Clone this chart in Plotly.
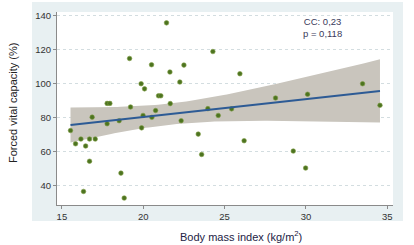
import numpy as np
import plotly.graph_objects as go

# Data
bmi = [15.53, 15.84, 16.17, 16.46, 16.70, 17.05, 16.70, 16.33, 16.86, 17.78,
       17.95, 17.78, 18.52, 18.63, 18.83, 19.16, 19.22, 19.87, 20.08, 19.90,
       19.99, 20.51, 20.94, 21.08, 20.76, 20.53, 21.43, 21.64, 21.66, 22.25,
       22.50, 22.33, 23.38, 23.59, 23.97, 24.28, 24.61, 25.43, 25.94, 26.20,
       28.13, 29.22, 29.98, 30.10, 33.48, 34.55]
fvc = [72.3, 64.5, 67.3, 63.2, 67.3, 67.3, 54.2, 36.4, 80.2, 88.3,
       88.3, 76.3, 78.1, 47.2, 32.5, 114.8, 86.2, 99.9, 96.9, 73.9,
       81.2, 111.1, 92.8, 92.8, 84.1, 80.1, 135.8, 106.8, 88.2, 100.9,
       110.9, 78.1, 70.2, 58.2, 85.2, 118.9, 81.2, 85.1, 105.8, 66.3,
       91.5, 60.2, 50.2, 93.7, 99.9, 87.2]

x_ticks = [15, 20, 25, 30, 35]
y_ticks = [40, 60, 80, 100, 120, 140]
annot_lines = ["CC: 0,23", "p = 0,118"]
x_title = "Body mass index (kg/m<sup>2</sup>)"
y_title = "Forced vital capacity (%)"

# Linear fit with 95% CI of the mean (Stata lfitci style)
x = np.array(bmi)
y = np.array(fvc)
n = len(x)
b, a = np.polyfit(x, y, 1)
resid = y - (a + b * x)
s = np.sqrt(np.sum(resid ** 2) / (n - 2))
xm = x.mean()
sxx = np.sum((x - xm) ** 2)
t_crit = 2.0154  # t(0.975, df=44)
xg = np.linspace(x.min(), x.max(), 100)
yg = a + b * xg
se = s * np.sqrt(1.0 / n + (xg - xm) ** 2 / sxx)
upper = yg + t_crit * se
lower = yg - t_crit * se

fig = go.Figure()
fig.add_trace(go.Scatter(
    x=np.concatenate([xg, xg[::-1]]), y=np.concatenate([upper, lower[::-1]]),
    fill="toself", fillcolor="#c9c5bd", line=dict(width=0), mode="lines",
    hoverinfo="skip", showlegend=False))
fig.add_trace(go.Scatter(
    x=bmi, y=fvc, mode="markers",
    marker=dict(color="#4d7420", size=4.6, line=dict(color="#7f9c45", width=0.6)),
    showlegend=False))
fig.add_trace(go.Scatter(
    x=xg, y=yg, mode="lines", line=dict(color="#2d5b95", width=2),
    showlegend=False))

W, H = 414, 245
L, R, T, B = 57, 21, 12, 40
pw, ph = W - L - R, H - T - B

def px_x(p):
    return (p - L) / pw

def px_y(p):
    return (H - B - p) / ph

txt_font = "Liberation Sans, Arial, sans-serif"

fig.add_annotation(
    x=px_x(322), y=px_y(14), xref="paper", yref="paper", xanchor="center", yanchor="top",
    text="<br>".join(annot_lines), showarrow=False, align="center",
    font=dict(size=9.5, color="#3a3a5a", family=txt_font))

# axis titles as annotations (placed like the reference)
fig.add_annotation(
    x=px_x(241), y=px_y(236), xref="paper", yref="paper",
    xanchor="center", yanchor="middle", text=x_title, showarrow=False,
    font=dict(size=11, color="#222244", family=txt_font))
fig.add_annotation(
    x=px_x(13), y=px_y(103), xref="paper", yref="paper",
    xanchor="center", yanchor="middle", text=y_title, showarrow=False,
    textangle=-90, font=dict(size=11, color="#222222", family=txt_font))

# outer light panel and white plot region
fig.add_shape(type="rect", xref="paper", yref="paper",
              x0=px_x(32), x1=px_x(403), y0=px_y(221), y1=px_y(2),
              fillcolor="#e8f0f2", line=dict(width=0), layer="below")
fig.add_shape(type="rect", xref="paper", yref="paper",
              x0=0, x1=1, y0=0, y1=1,
              fillcolor="white", line=dict(width=0), layer="below")

font = dict(family=txt_font, color="#333333")
fig.update_layout(
    width=W, height=H,
    margin=dict(l=L, r=R, t=T, b=B),
    paper_bgcolor="white", plot_bgcolor="white",
    font=font,
    xaxis=dict(range=[14.7, 35.35], tickvals=x_ticks, showgrid=False,
               automargin=False,
               zeroline=False, showline=True, linecolor="#8a8a8a", linewidth=1,
               ticks="outside", ticklen=3, tickcolor="#8a8a8a",
               tickfont=dict(size=9.5, color="#333333")),
    yaxis=dict(range=[28.4, 142.2], tickvals=y_ticks, showgrid=True,
               automargin=False,
               gridcolor="#d3dde0", griddash="dot", gridwidth=1,
               zeroline=False, showline=True, linecolor="#8a8a8a", linewidth=1,
               ticks="outside", ticklen=3, tickcolor="#8a8a8a",
               tickfont=dict(size=9.5, color="#333333")),
)

fig.write_html("out.html", config={"displayModeBar": False},
               post_script="document.body.style.margin='0';document.body.style.overflow='hidden';")
